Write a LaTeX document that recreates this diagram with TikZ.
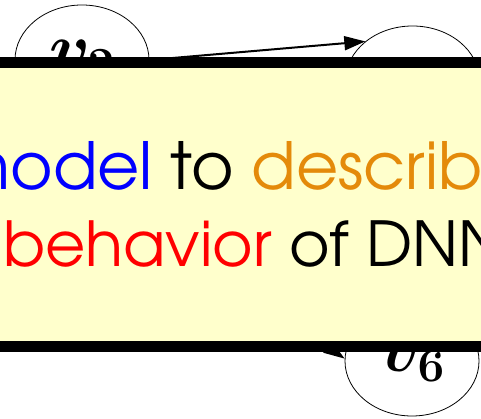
\documentclass[tikz,border=0pt]{standalone}
\usepackage{fix-cm}
\usepackage{fontspec}
\setmainfont{TeX Gyre Adventor}
\usepackage{xcolor}
\definecolor{notefill}{RGB}{255,255,204}
\definecolor{amber}{RGB}{228,138,10}
\usetikzlibrary{shapes.geometric}
\usetikzlibrary{arrows.meta}

\begin{document}
\begin{tikzpicture}[x=1pt,y=1pt,
	vertex/.style={ellipse, draw=black, line width=0.8pt, minimum width=134pt, minimum height=110pt, inner sep=0pt, font=\fontsize{68}{72}\selectfont\boldmath},
	edge/.style={-{Triangle[length=21pt,width=14pt]}, line width=2pt},
	note/.style={draw=black, line width=11pt, fill=notefill, minimum width=540pt, minimum height=284pt},
	noteline/.style={inner sep=0pt, font=\fontsize{65}{72}\selectfont}]
	\clip (0,0) rectangle (481,419);
	\node[vertex] (v2) at (82,359) {$v_2$};
	\node[vertex] (v3) at (412.5,338) {};
	\node[vertex] (v6) at (412,58) {$v_6$};
	\coordinate (v5) at (181,173);
	\draw[edge] (v2.east) -- (v3.140);
	\draw[edge] (v5) -- (v6.178);
	\node[note] (box) at (240.5,214.5) {};
	\node[noteline, anchor=base east] (line1) at (483,229) {\textcolor{blue}{model} to \textcolor{amber}{describ}};
	\node[noteline, anchor=base west, font=\fontsize{62}{72}\selectfont] (line2) at (3,152) {\textcolor{red}{behavior} of DNN};
\end{tikzpicture}
\end{document}
